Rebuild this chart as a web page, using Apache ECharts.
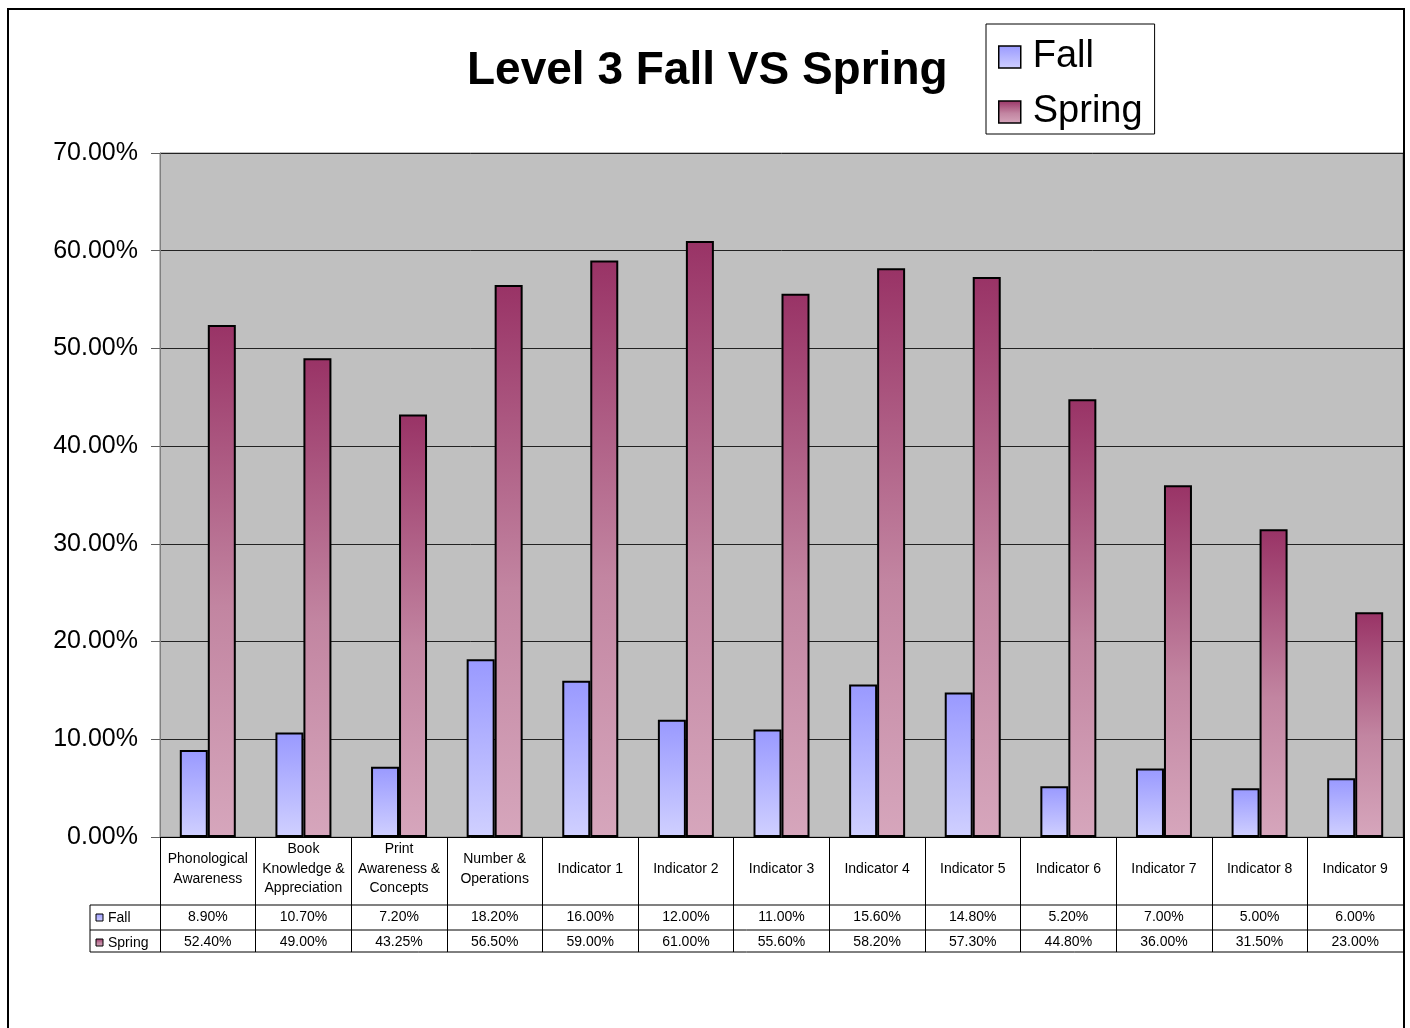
<!DOCTYPE html>
<html>
<head>
<meta charset="utf-8">
<script src="https://cdn.jsdelivr.net/npm/echarts@6/dist/echarts.min.js"></script>
<style>
html, body { margin: 0; padding: 0; background: #fff; }
#main { width: 1410px; height: 1028px; }
</style>
</head>
<body>
<div id="main"></div>
<script>
var categories = ['Phonological\nAwareness', 'Book\nKnowledge &\nAppreciation', 'Print\nAwareness &\nConcepts',
    'Number &\nOperations', 'Indicator 1', 'Indicator 2', 'Indicator 3', 'Indicator 4', 'Indicator 5',
    'Indicator 6', 'Indicator 7', 'Indicator 8', 'Indicator 9'];
var fallValues = [8.9, 10.7, 7.2, 18.2, 16.0, 12.0, 11.0, 15.6, 14.8, 5.2, 7.0, 5.0, 6.0];
var springValues = [52.4, 49.0, 43.25, 56.5, 59.0, 61.0, 55.6, 58.2, 57.3, 44.8, 36.0, 31.5, 23.0];
var yMax = 70, yStep = 10;

var FONT = "'Liberation Sans', Arial, sans-serif";

var fallGrad = new echarts.graphic.LinearGradient(0, 0, 0, 1, [
    { offset: 0, color: '#9999ff' },
    { offset: 1, color: '#d0d0ff' }
]);
var springGrad = new echarts.graphic.LinearGradient(0, 0, 0, 1, [
    { offset: 0, color: '#993366' },
    { offset: 0.55, color: '#c285a1' },
    { offset: 1, color: '#d6a6bc' }
]);

function pct(v) { return v.toFixed(2) + '%'; }

var chart = echarts.init(document.getElementById('main'));

chart.setOption({
    animation: false,
    textStyle: { fontFamily: FONT },
    title: {
        text: 'Level 3 Fall VS Spring',
        left: 467,
        top: 48,
        padding: 0,
        textStyle: { fontSize: 46, fontWeight: 'bold', color: '#000', fontFamily: FONT }
    },
    legend: {
        orient: 'vertical',
        left: 986,
        top: 24,
        padding: [13, 12, 2, 12],
        itemWidth: 22,
        itemHeight: 22,
        itemGap: 15,
        icon: 'rect',
        borderColor: '#000',
        borderWidth: 1,
        backgroundColor: '#fff',
        itemStyle: { borderColor: '#000', borderWidth: 1.5 },
        textStyle: { fontSize: 38, lineHeight: 40, color: '#000', padding: [0, 0, 0, 7], fontFamily: FONT },
        data: ['Fall', 'Spring']
    },
    grid: {
        left: 160,
        right: 7,
        top: 153,
        bottom: 191,
        show: true,
        backgroundColor: '#c0c0c0',
        borderColor: '#808080',
        borderWidth: 1,
        outerBoundsMode: 'none'
    },
    xAxis: [
        {
            type: 'category',
            data: categories,
            axisLine: { lineStyle: { color: '#000', width: 1 } },
            axisTick: { show: true, interval: 0, length: 115, lineStyle: { color: '#000', width: 1 } },
            axisLabel: {
                interval: 0, margin: 32, verticalAlign: 'middle',
                fontSize: 14, lineHeight: 19.5, color: '#000', fontFamily: FONT
            }
        },
        {
            type: 'category',
            data: categories,
            position: 'bottom',
            offset: 80,
            axisLine: { show: false },
            axisTick: { show: false },
            axisLabel: {
                interval: 0, margin: 0, verticalAlign: 'middle', fontSize: 14, color: '#000', fontFamily: FONT,
                formatter: function (v, i) { return pct(fallValues[i]); }
            }
        },
        {
            type: 'category',
            data: categories,
            position: 'bottom',
            offset: 105,
            axisLine: { show: false },
            axisTick: { show: false },
            axisLabel: {
                interval: 0, margin: 0, verticalAlign: 'middle', fontSize: 14, color: '#000', fontFamily: FONT,
                formatter: function (v, i) { return pct(springValues[i]); }
            }
        }
    ],
    yAxis: {
        type: 'value',
        min: 0,
        max: yMax,
        interval: yStep,
        axisLine: { show: true, lineStyle: { color: '#808080' } },
        axisTick: { show: true, length: 9, lineStyle: { color: '#606060' } },
        axisLabel: { fontSize: 25, margin: 22, color: '#000', fontFamily: FONT, formatter: pct },
        splitLine: { show: true, lineStyle: { color: '#222', width: 1 } }
    },
    series: [
        {
            name: 'Fall',
            type: 'bar',
            data: fallValues,
            barWidth: 28,
            barGap: '0%',
            itemStyle: { color: fallGrad, borderColor: '#000', borderWidth: 2 }
        },
        {
            name: 'Spring',
            type: 'bar',
            data: springValues,
            barWidth: 28,
            itemStyle: { color: springGrad, borderColor: '#000', borderWidth: 2 }
        }
    ],
    graphic: [
        // outer chart frame
        { type: 'rect', shape: { x: 8, y: 9, width: 1396, height: 1040 }, style: { fill: null, stroke: '#000', lineWidth: 2 }, silent: true },
        // data table rows
        { type: 'line', shape: { x1: 90, y1: 905, x2: 1403, y2: 905 }, style: { stroke: '#808080', lineWidth: 2 } },
        { type: 'line', shape: { x1: 90, y1: 930, x2: 1403, y2: 930 }, style: { stroke: '#000', lineWidth: 1 } },
        { type: 'line', shape: { x1: 90, y1: 952, x2: 1403, y2: 952 }, style: { stroke: '#000', lineWidth: 1 } },
        { type: 'line', shape: { x1: 90, y1: 905, x2: 90, y2: 952 }, style: { stroke: '#000', lineWidth: 1 } },
        // legend keys of the table
        { type: 'rect', shape: { x: 96, y: 914, width: 7, height: 7 }, style: { fill: fallGrad, stroke: '#000', lineWidth: 1 } },
        { type: 'text', x: 108, y: 918, style: { text: 'Fall', fontSize: 14, fontFamily: FONT, fill: '#000', verticalAlign: 'middle' } },
        { type: 'rect', shape: { x: 96, y: 939, width: 7, height: 7 }, style: { fill: springGrad, stroke: '#000', lineWidth: 1 } },
        { type: 'text', x: 108, y: 943, style: { text: 'Spring', fontSize: 14, fontFamily: FONT, fill: '#000', verticalAlign: 'middle' } }
    ]
});
</script>
</body>
</html>
